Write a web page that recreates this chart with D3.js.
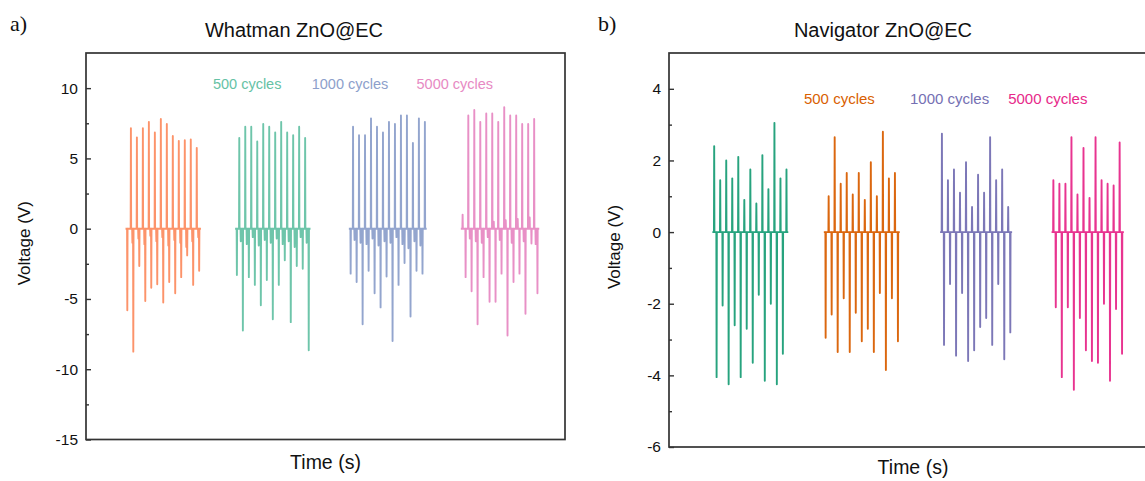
<!DOCTYPE html>
<html>
<head>
<meta charset="utf-8">
<script src="https://cdn.jsdelivr.net/npm/d3@7"></script>
<style>
  body { margin: 0; background: #fff; }
  svg { font-family: Arial, "Liberation Sans", sans-serif; }
</style>
</head>
<body>
<div id="chart"></div>
<script>
// panel a) Whatman ZnO@EC  (time in s, voltage in V)
const whatmanLabels = ["", "500 cycles", "1000 cycles", "5000 cycles"];

const w0PosT = [7.5, 8.5, 9.5, 10.5, 11.5, 12.5, 13.5, 14.5, 15.5, 16.5, 17.5, 18.5];
const w0PosV = [7.15, 6.5, 7.15, 7.6, 6.85, 7.8, 7.45, 6.6, 6.25, 6.3, 6.35, 5.75];
const w0NegT = [6.9, 7.9, 8.9, 9.9, 10.9, 11.9, 12.9, 13.9, 14.9, 15.9, 16.9, 17.9, 18.9];
const w0NegV = [-5.8, -8.75, -2.65, -5.15, -4.2, -3.95, -5.25, -3.8, -4.6, -3.45, -1.9, -4.0, -3.0];
const w0RingT = [7.75, 8.75, 9.75, 10.75, 11.75, 12.75, 13.75, 14.75, 15.75, 16.75, 17.75, 18.75];
const w0RingV = [-1.0, -0.7, -1.1, -0.5, -0.9, -0.6, -1.2, -0.8, -1.0, -1.3, -0.9, -0.6];

const w1PosT = [25.6, 26.6, 27.6, 28.6, 29.6, 30.6, 31.6, 32.6, 33.6, 34.6, 35.6, 36.6];
const w1PosV = [6.45, 7.25, 7.25, 6.2, 7.45, 7.25, 6.85, 7.6, 6.85, 6.65, 7.25, 6.45];
const w1NegT = [25.2, 26.2, 27.2, 28.2, 29.2, 30.2, 31.2, 32.2, 33.2, 34.2, 35.2, 36.2, 37.2];
const w1NegV = [-3.3, -7.25, -3.45, -4.0, -5.45, -3.65, -6.45, -4.0, -2.25, -6.65, -2.65, -2.85, -8.65];
const w1RingT = [25.85, 26.85, 27.85, 28.85, 29.85, 30.85, 31.85, 32.85, 33.85, 34.85, 35.85, 36.85];
const w1RingV = [-0.9, -1.1, -0.6, -1.2, -0.8, -1.0, -0.7, -1.1, -0.9, -1.3, -0.6, -1.0];

const w2PosT = [44.6, 45.6, 46.6, 47.6, 48.6, 49.6, 50.6, 51.6, 52.6, 53.6, 54.6, 55.6, 56.6];
const w2PosV = [7.25, 6.65, 6.65, 7.85, 7.25, 6.85, 7.6, 7.45, 8.05, 8.05, 6.1, 7.85, 7.6];
const w2NegT = [44.2, 45.2, 46.2, 47.2, 48.2, 49.2, 50.2, 51.2, 52.2, 53.2, 54.2, 55.2, 56.2];
const w2NegV = [-3.2, -3.8, -6.8, -3.0, -4.6, -5.6, -3.4, -8.0, -4.0, -2.45, -6.25, -3.0, -3.2];
const w2RingT = [44.85, 45.85, 46.85, 47.85, 48.85, 49.85, 50.85, 51.85, 52.85, 53.85, 54.85, 55.85];
const w2RingV = [-0.8, -1.0, -1.1, -0.7, -1.2, -0.9, -1.0, -0.6, -1.1, -1.4, -0.9, -1.2];

const w3PosT = [62.9, 63.85, 64.85, 65.85, 66.85, 67.85, 68.85, 69.85, 70.85, 71.85, 72.85, 73.85, 74.85];
const w3PosV = [1.0, 8.05, 8.45, 7.6, 8.2, 8.2, 7.6, 8.65, 8.05, 8.05, 7.45, 7.45, 7.8];
const w3NegT = [63.4, 64.4, 65.4, 66.4, 67.4, 68.4, 69.4, 70.4, 71.4, 72.4, 73.4, 74.4, 75.4];
const w3NegV = [-3.45, -4.45, -6.8, -3.45, -5.2, -5.2, -3.2, -7.6, -3.8, -3.2, -6.05, -1.05, -4.6];
const w3RingT = [64.1, 65.1, 66.1, 67.1, 68.1, 69.1, 70.1, 71.1, 72.1, 73.1, 74.1, 75.1];
const w3RingV = [-0.7, -0.9, -1.0, -0.6, 0.5, -0.8, 0.6, -1.0, 0.7, -0.9, 0.8, -1.1];

// panel b) Navigator ZnO@EC
const navigatorLabels = ["", "500 cycles", "1000 cycles", "5000 cycles"];

const n0PosT = [7.5, 8.5, 9.5, 10.5, 11.5, 12.5, 13.5, 14.5, 15.5, 16.5, 17.5, 18.5, 19.5];
const n0PosV = [2.4, 1.45, 2.0, 1.5, 2.1, 0.9, 1.75, 0.8, 2.15, 1.2, 3.05, 1.5, 1.75];
const n0NegT = [7.9, 8.9, 9.9, 10.9, 11.9, 12.9, 13.9, 14.9, 15.9, 16.9, 17.9, 18.9];
const n0NegV = [-4.05, -2.05, -4.25, -2.6, -4.05, -2.7, -3.65, -1.75, -4.15, -2.0, -4.25, -3.4];

const n1PosT = [26.5, 27.5, 28.5, 29.5, 30.5, 31.5, 32.5, 33.5, 34.5, 35.5, 36.5, 37.5];
const n1PosV = [1.0, 2.65, 1.35, 1.65, 1.05, 1.65, 0.9, 1.95, 1.0, 2.8, 1.5, 1.65];
const n1NegT = [26.0, 27.0, 28.0, 29.0, 30.0, 31.0, 32.0, 33.0, 34.0, 35.0, 36.0, 37.0, 38.0];
const n1NegV = [-2.95, -2.3, -3.35, -1.85, -3.35, -2.25, -3.05, -2.7, -3.35, -1.7, -3.85, -1.85, -3.05];

const n2PosT = [45.3, 46.3, 47.3, 48.3, 49.3, 50.3, 51.3, 52.3, 53.3, 54.3, 55.3, 56.3];
const n2PosV = [2.75, 1.45, 1.75, 1.1, 1.95, 0.7, 1.6, 1.1, 2.65, 1.45, 1.75, 0.7];
const n2NegT = [45.65, 46.65, 47.65, 48.65, 49.65, 50.65, 51.65, 52.65, 53.65, 54.65, 55.65, 56.65];
const n2NegV = [-3.15, -1.45, -3.45, -1.7, -3.6, -3.3, -2.65, -2.4, -3.15, -1.45, -3.55, -2.8];

const n3PosT = [63.8, 64.8, 65.8, 66.8, 67.8, 68.8, 69.8, 70.8, 71.8, 72.8, 73.8, 74.8];
const n3PosV = [1.45, 1.35, 1.35, 2.65, 1.05, 2.35, 0.95, 2.65, 1.45, 1.35, 1.3, 2.5];
const n3NegT = [64.2, 65.2, 66.2, 67.2, 68.2, 69.2, 70.2, 71.2, 72.2, 73.2, 74.2, 75.2];
const n3NegV = [-2.1, -4.05, -2.1, -4.4, -2.4, -3.3, -3.6, -3.65, -2.0, -4.15, -2.15, -3.4];

function merge(pairs) {
  let ev = [];
  pairs.forEach(([ts, vs]) => ts.forEach((t, k) => ev.push([t, vs[k]])));
  ev.sort((a, b) => a[0] - b[0]);
  return ev;
}

function drawPanel(svg, cfg) {
  let x = d3.scaleLinear().domain(cfg.xDomain).range([cfg.left, cfg.right]);
  let y = d3.scaleLinear().domain(cfg.yDomain).range([cfg.bottom, cfg.top]);
  let line = d3.line().x(d => x(d[0])).y(d => y(d[1]));

  cfg.groups.forEach(function(ev, i) {
    let pts = [[ev[0][0] - 0.3, 0]];
    ev.forEach(([t, v]) => pts.push([t - 0.04, 0], [t, v], [t + 0.04, 0]));
    pts.push([ev[ev.length - 1][0] + 0.3, 0]);
    svg.append("path")
      .attr("d", line(pts))
      .attr("fill", "none")
      .attr("stroke", cfg.colors[i])
      .attr("stroke-width", cfg.lineWidth)
      .attr("stroke-linejoin", "round")
      .attr("opacity", cfg.opacity);
  });

  svg.append("rect")
    .attr("x", cfg.left).attr("y", cfg.top)
    .attr("width", cfg.right - cfg.left).attr("height", cfg.bottom - cfg.top)
    .attr("fill", "none").attr("stroke", "#333").attr("stroke-width", 1.7);

  let yAxis = svg.append("g")
    .attr("transform", `translate(${cfg.left},0)`)
    .call(d3.axisLeft(y).tickValues(cfg.majors).tickSize(-5).tickPadding(8).tickFormat(d => String(d)))
    .call(g => g.select(".domain").remove());
  yAxis.selectAll("text").attr("font-size", 15.5).attr("fill", "#111")
    .attr("font-family", "Arial, 'Liberation Sans', sans-serif");
  yAxis.selectAll("line").attr("stroke", "#333").attr("stroke-width", 1.4);

  svg.append("g")
    .attr("transform", `translate(${cfg.left},0)`)
    .call(d3.axisLeft(y).tickValues(cfg.minors).tickSize(-3).tickFormat(""))
    .call(g => g.select(".domain").remove())
    .selectAll("line").attr("stroke", "#333").attr("stroke-width", 1.4);

  cfg.labels.forEach(function(lab, i) {
    if (!lab) return;
    svg.append("text")
      .attr("x", x(cfg.labelT[i])).attr("y", y(cfg.labelV))
      .attr("fill", cfg.colors[i]).attr("font-size", cfg.labelSize)
      .text(lab);
  });

  svg.append("text")
    .attr("x", cfg.titleX).attr("y", 37)
    .attr("text-anchor", "middle").attr("font-size", 20).attr("fill", "#111")
    .text(cfg.title);

  svg.append("text")
    .attr("x", cfg.tagX).attr("y", 31)
    .attr("font-family", "'Liberation Serif', 'Times New Roman', serif")
    .attr("font-size", 22).attr("fill", "#111")
    .text(cfg.tag);

  svg.append("text")
    .attr("x", (cfg.left + cfg.right) / 2).attr("y", cfg.xLabelY)
    .attr("text-anchor", "middle").attr("font-size", 19.5).attr("fill", "#111")
    .text("Time (s)");

  svg.append("text")
    .attr("transform", `translate(${cfg.yLabelX},${(cfg.top + cfg.bottom) / 2 - 3}) rotate(-90)`)
    .attr("text-anchor", "middle").attr("font-size", 17).attr("fill", "#111")
    .text("Voltage (V)");
}

function main() {
  const svg = d3.select("#chart").append("svg")
    .attr("width", 1145).attr("height", 481);

  drawPanel(svg, {
    left: 86, right: 565, top: 53, bottom: 439.5,
    xDomain: [0, 80], yDomain: [-15, 12.5],
    majors: d3.range(-15, 11, 5), minors: d3.range(-12.5, 10, 5),
    groups: [
      merge([[w0PosT, w0PosV], [w0NegT, w0NegV], [w0RingT, w0RingV]]),
      merge([[w1PosT, w1PosV], [w1NegT, w1NegV], [w1RingT, w1RingV]]),
      merge([[w2PosT, w2PosV], [w2NegT, w2NegV], [w2RingT, w2RingV]]),
      merge([[w3PosT, w3PosV], [w3NegT, w3NegV], [w3RingT, w3RingV]])
    ],
    colors: ["#fc8d62", "#66c2a5", "#8da0cb", "#e78ac3"],
    lineWidth: 1.9, opacity: 0.95,
    labels: whatmanLabels, labelT: [0, 21.2, 37.7, 55.2], labelV: 9.95, labelSize: 14.5,
    title: "Whatman ZnO@EC", titleX: 294, tag: "a)", tagX: 10,
    xLabelY: 469, yLabelX: 30
  });

  drawPanel(svg, {
    left: 669, right: 1157, top: 53, bottom: 447,
    xDomain: [0, 81], yDomain: [-6, 5],
    majors: d3.range(-6, 5, 2), minors: d3.range(-5, 4, 2),
    groups: [
      merge([[n0PosT, n0PosV], [n0NegT, n0NegV]]),
      merge([[n1PosT, n1PosV], [n1NegT, n1NegV]]),
      merge([[n2PosT, n2PosV], [n2NegT, n2NegV]]),
      merge([[n3PosT, n3PosV], [n3NegT, n3NegV]])
    ],
    colors: ["#1b9e77", "#d95f02", "#7570b3", "#e7298a"],
    lineWidth: 1.9, opacity: 0.95,
    labels: navigatorLabels, labelT: [0, 22.4, 40.0, 56.3], labelV: 3.59, labelSize: 15,
    title: "Navigator ZnO@EC", titleX: 883, tag: "b)", tagX: 598,
    xLabelY: 474, yLabelX: 620
  });
}

main();
</script>
</body>
</html>
